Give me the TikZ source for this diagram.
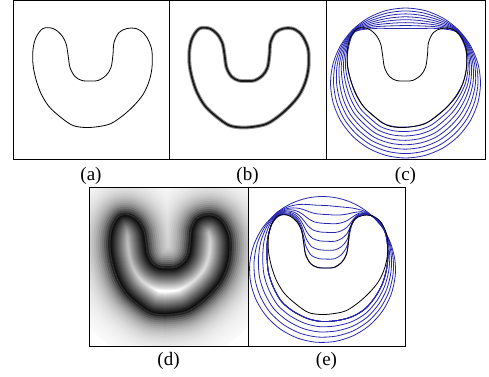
\documentclass[tikz,border=0pt]{standalone}
\usepackage{fontspec}
\setmainfont{Liberation Serif}
\usepackage{xcolor}
\usetikzlibrary{calc, positioning}

\definecolor{gvfblue}{RGB}{40,40,175}

\tikzset{
  %% Image panel (frame drawn at the end)
  panel/.style={
    rectangle, minimum width=#1, minimum height=159pt,
    inner sep=0pt, outer sep=0pt
  },
  panel/.default=157pt,
  frame/.style={draw=black, line width=0.9pt},
  %% Sub-figure label
  lab/.style={font=\fontsize{19}{20}\selectfont, inner sep=0pt},
  %% Object outline
  edge/.style={draw=black, line width=0.8pt, line join=round},
  %% Evolving contour
  gvf/.style={draw=gvfblue, line width=0.8pt, line join=round},
}

%% U shaped object, centre of its panel at the origin (y down, in px)
\def\ushape{plot[smooth cycle, tension=0.55] coordinates {
  (-48,-51) (-38,-51) (-30,-45) (-25,-36) (-23,-25) (-21,-12) (-16,-3)
  (-9,1) (0,1.5) (7,1) (15,-4) (20,-12) (22,-25) (23,-37) (28,-47)
  (36,-51) (45,-51) (53,-46) (58,-38) (61,-28) (61,-12) (58,2) (52,15)
  (43,26) (32,36) (20,44) (8,47) (-5,48) (-18,46) (-30,38) (-42,27)
  (-50,14) (-55,0) (-58,-15) (-58,-30) (-55,-42)}}

%% angle on the start circle / end point on the convex hull / speed
\def\hullpts{-90/0/-51/1, -75/14.6/-51/1, -60/31.5/-51/1, -45/51/-47.5/1,
  -30/60/-31/1, -15/61/-12.5/1, 0/57.5/3.5/1, 15/50/17/1, 30/41.5/27.5/1,
  45/32/35.5/1, 60/22.5/42.5/1, 75/11.5/46.3/1, 90/0/47.6/1,
  105/-11.5/47/1, 120/-23/43.5/1, 135/-32.5/35.8/1, 150/-41.6/27.5/1,
  165/-48.4/16.4/1, 180/-53.8/3.5/1, 195/-58/-12/1, 210/-57.5/-29.5/1,
  225/-51/-47.3/1, 240/-31.5/-51/1, 255/-14.6/-51/1}

%% angle on the start circle / end point on the object / speed
\def\shapepts{229.4/-49/-49.5/1, 235/-43/-52/1, 240/-36/-51/1,
  245/-29/-45/1, 250/-25/-36/1, 255/-23/-25/1, 260/-21/-13/1,
  265/-16/-3/1, 270/-8/1/1, 275/0/1.5/1, 280/8/1/1, 285/15/-4/1,
  290/20/-13/1, 295/22/-25/1, 300/23.5/-37/1, 304/28/-47/1,
  308/35/-51.5/1, 311/42/-51.5/1, 314.2/47/-49.5/1, 325/55/-43/2,
  338/60/-29/2, 352/61.5/-12/2, 365/60/3/2, 380/56/17/2, 395/49/30/2,
  410/39/42/2, 425/26/50/2, 440/11/54/2, 455/-5/55/2, 470/-19/52/2,
  485/-33/45/2, 500/-45/35/2, 515/-53/21/2, 530/-58/6/2,
  545/-59.5/-10/2, 560/-59/-27/2, 575/-55/-42/2}

%% #1 point list, #2 circle centre, #3 radius, #4 steps
\newcommand\gvfcurves[4]{%
  \foreach \t in {#4} {
    \gdef\pts{}
    \foreach \a/\hx/\hy/\s [count=\i] in #1 {
      \pgfmathsetmacro\gvft{min(1,\t*\s)}
      \begin{scope}[shift={#2}]
        \coordinate (o\i) at (\a:#3);
      \end{scope}
      \coordinate (m\i) at ($(o\i)!\gvft!(\hx,\hy)$);
      \xdef\pts{\pts (m\i)}
    }
    \edef\tmp{\noexpand\draw[gvf] plot[smooth cycle, tension=0.5]
      coordinates {\pts};}
    \tmp
  }
}

\begin{document}
\begin{tikzpicture}[x=1pt, y=-1pt]
  \useasboundingbox (0,0) rectangle (489,376);

  \node[panel=156pt] (pa) at (91,79.5) {};
  \node[panel=157pt, right=0pt of pa] (pb) {};
  \node[panel=159pt, right=0pt of pb] (pc) {};
  \node[panel=159pt] (pd) at (168.5,266.5) {};
  \node[panel=157pt, right=0pt of pd] (pe) {};

  % (a) object
  \begin{scope}[shift={(pa.center)}]
    \draw[edge] \ushape;
  \end{scope}

  % (b) blurred edge
  \begin{scope}[shift={(pb.center)}]
    \draw[black!40, line width=3.8pt, line join=round] \ushape;
    \draw[black!90, line width=1.8pt, line join=round] \ushape;
  \end{scope}

  % (c) contours stopping at the convex hull
  \begin{scope}[shift={(pc.center)}]
    \gvfcurves{\hullpts}{(0,3.5)}{75}{0,0.143,0.286,0.429,0.571,0.714,0.857,1}
    \draw[edge] \ushape;
  \end{scope}

  % (d) edge map
  \begin{scope}
    \clip (pd.south west) rectangle (pd.north east);
    \begin{scope}[shift={(pd.center)}]
      \foreach \d [evaluate=\d as \k using {100*exp(-\d/13)}] in {50,48,...,2}
        \draw[black!\k!white, line width=2*\d, line join=round] \ushape;
      \begin{scope}
        \clip \ushape;
        \fill[white] (-70,-70) rectangle (70,70);
        \foreach \d [evaluate=\d as \k using {100*(1-\d/23)^0.9}] in {23,22,...,1}
          \draw[black!\k!white, line width=2*\d, line join=round] \ushape;
      \end{scope}
      \draw[black!85, line width=1pt] \ushape;
    \end{scope}
  \end{scope}

  % (e) contours entering the concavity
  \begin{scope}[shift={(pe.center)}]
    \gvfcurves{\shapepts}{(-4,3)}{73}{0,0.125,0.25,0.375,0.5,0.625,0.75,0.875,1}
    \draw[edge] \ushape;
  \end{scope}

  \foreach \p in {pa,pb,pc,pd,pe}
    \draw[frame] (\p.south west) rectangle (\p.north east);

  \node[lab, below=8pt of pa] (la) {(a)};
  \node[lab, below=8pt of pb] (lb) {(b)};
  \node[lab, below=8pt of pc] (lc) {(c)};
  \node[lab, below=6pt of pd] (ld) {(d)};
  \node[lab, below=6pt of pe] (le) {(e)};
\end{tikzpicture}
\end{document}
